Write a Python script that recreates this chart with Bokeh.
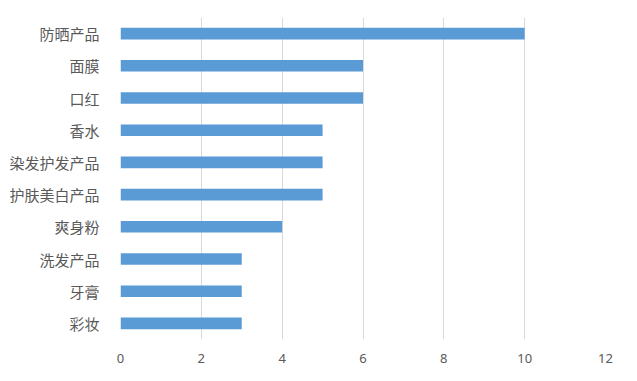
from bokeh.plotting import figure
from bokeh.models import FactorRange, Range1d, ColumnDataSource, FixedTicker
from bokeh.embed import file_html
from bokeh.resources import INLINE

# Categories listed top to bottom as in the chart
categories = ["防晒产品", "面膜", "口红", "香水", "染发护发产品", "护肤美白产品", "爽身粉", "洗发产品", "牙膏", "彩妆"]
values = [10, 6, 6, 5, 5, 5, 4, 3, 3, 3]
x_ticks = [0, 2, 4, 6, 8, 10, 12]

source = ColumnDataSource(data=dict(cat=categories, val=values))

p = figure(
    width=629, height=373,
    y_range=FactorRange(factors=categories[::-1], range_padding=0),
    x_range=Range1d(0, 12),
    output_backend="svg", toolbar_location=None,
    min_border_left=120, min_border_right=24, min_border_top=17, min_border_bottom=34,
)
p.hbar(y="cat", right="val", left=0, height=0.36, source=source,
       fill_color="#5B9BD5", line_color=None)

p.outline_line_color = None
p.background_fill_color = "white"
p.border_fill_color = "white"

p.xaxis.ticker = FixedTicker(ticks=x_ticks)
p.xaxis.axis_line_color = None
p.xaxis.major_tick_line_color = None
p.xaxis.minor_tick_line_color = None
p.xaxis.major_label_text_color = "#595959"
p.xaxis.major_label_text_font = "Noto Sans"
p.xaxis.major_label_text_font_size = "13px"
p.xaxis.major_label_standoff = 8

p.yaxis.axis_line_color = None
p.yaxis.major_tick_line_color = None
p.yaxis.minor_tick_line_color = None
p.yaxis.major_label_text_color = "#595959"
p.yaxis.major_label_text_font = "Noto Sans CJK SC"
p.yaxis.major_label_text_font_size = "15px"
p.yaxis.major_label_standoff = 15

p.xgrid.grid_line_color = "#D9D9D9"
p.xgrid.grid_line_width = 1
p.ygrid.grid_line_color = None

open("out.html", "w").write(file_html(p, INLINE))
